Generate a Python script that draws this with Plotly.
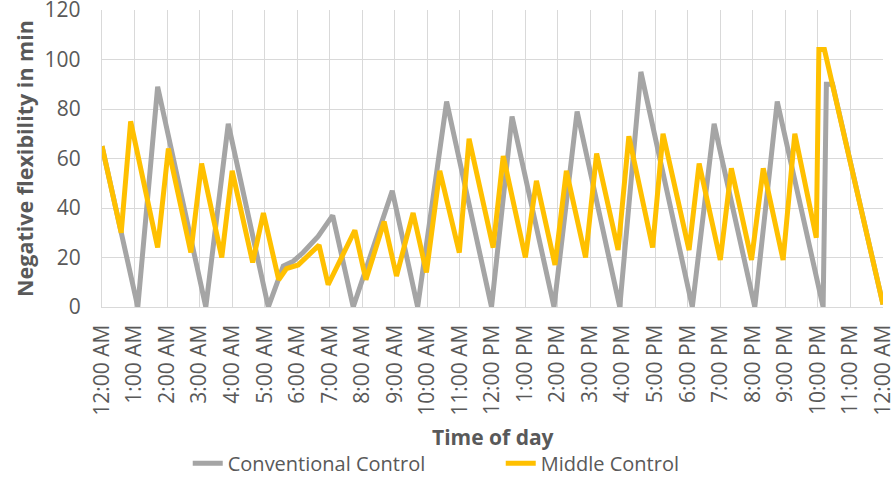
import plotly.graph_objects as go

# time of day in hours since midnight
conv_hours = [0, 1.1, 1.71, 3.19, 3.88, 5.11, 5.57, 5.88, 6.18, 6.64, 7.09, 7.72,
              8.92, 9.70, 10.59, 11.97, 12.60, 13.89, 14.60, 15.91, 16.56, 18.14,
              18.81, 20.06, 20.75, 22.16, 22.26, 22.45, 24]
conv_values = [65, 0, 89, 0, 74, 0, 16.5, 18.5, 22, 28.5, 37, 0,
               47, 0, 83, 0, 77, 0, 79, 0, 95, 0,
               74, 0, 83, 0, 90, 90, 1]

mid_hours = [0, 0.59, 0.88, 1.71, 2.04, 2.73, 3.06, 3.68, 4.0, 4.63, 4.96, 5.43,
             5.67, 6.03, 6.67, 6.95, 7.77, 8.11, 8.67, 9.05, 9.56, 9.97, 10.38,
             10.98, 11.28, 12.02, 12.33, 13.01, 13.35, 13.92, 14.27, 14.86, 15.2,
             15.86, 16.19, 16.92, 17.24, 18.04, 18.35, 19.0, 19.34, 19.96, 20.32,
             20.93, 21.29, 21.95, 22.03, 22.2, 24]
mid_values = [65, 30, 75, 24, 64, 22, 58, 20, 55, 18, 38, 11,
              15.5, 17, 25, 9, 31, 11, 34.5, 12.5, 38, 14, 55,
              22, 68, 24, 61, 20, 51, 17, 55, 20, 62,
              23, 69, 24, 70, 23, 58, 19, 56, 19, 56,
              19, 70, 28, 104, 104, 1]

tick_hours = list(range(25))
tick_labels = ["12:00 AM", "1:00 AM", "2:00 AM", "3:00 AM", "4:00 AM", "5:00 AM",
               "6:00 AM", "7:00 AM", "8:00 AM", "9:00 AM", "10:00 AM", "11:00 AM",
               "12:00 PM", "1:00 PM", "2:00 PM", "3:00 PM", "4:00 PM", "5:00 PM",
               "6:00 PM", "7:00 PM", "8:00 PM", "9:00 PM", "10:00 PM", "11:00 PM",
               "12:00 AM"]

FONT = "Open Sans"
TXT = "#595959"
GRID = "#d9d9d9"

fig = go.Figure()
fig.add_trace(go.Scatter(x=conv_hours, y=conv_values, mode="lines",
                         name="Conventional Control",
                         line=dict(color="#a5a5a5", width=5)))
fig.add_trace(go.Scatter(x=mid_hours, y=mid_values, mode="lines",
                         name="Middle Control",
                         line=dict(color="#ffc000", width=5)))

fig.update_layout(
    width=894, height=481,
    margin=dict(l=102, r=11, t=10, b=174),
    paper_bgcolor="white", plot_bgcolor="white",
    font=dict(family=FONT, color=TXT, size=20),
    showlegend=True,
    legend=dict(orientation="h", xref="container", yref="container",
                x=0.21, xanchor="left", y=0.037, yanchor="middle",
                font=dict(size=20, color=TXT), entrywidth=268, entrywidthmode="pixels"),
)
fig.update_xaxes(
    range=[0, 24], tickvals=tick_hours, ticktext=tick_labels, tickangle=-90,
    showgrid=True, gridcolor=GRID, gridwidth=1.3, zeroline=False,
    showline=True, linecolor=GRID, linewidth=1.3,
    ticks="", tickfont=dict(size=21, color=TXT), ticklabelstandoff=8,
    ticklabeloverflow="allow", automargin=False,
)
fig.update_yaxes(
    range=[0, 120], dtick=20, showgrid=True, gridcolor=GRID, gridwidth=1.3,
    zeroline=False, showline=True, linecolor=GRID, linewidth=1.3,
    ticks="", tickfont=dict(size=21, color=TXT), ticklabelstandoff=16,
    ticklabeloverflow="allow", automargin=False,
    title=dict(text="<b>Negative flexibility in min</b>", font=dict(size=21.5, color=TXT),
               standoff=5),
)
# x axis title as an annotation so it can sit a bit lower under the labels
fig.add_annotation(text="<b>Time of day</b>", xref="paper", yref="paper",
                   x=0.5, y=-0.438, xanchor="center", yanchor="middle",
                   showarrow=False, font=dict(size=21, color=TXT))

# page body has a default 8px margin; drop it so the figure fills the window
fig.write_html("out.html", config={"displayModeBar": False},
               post_script="document.body.style.margin='0';")
